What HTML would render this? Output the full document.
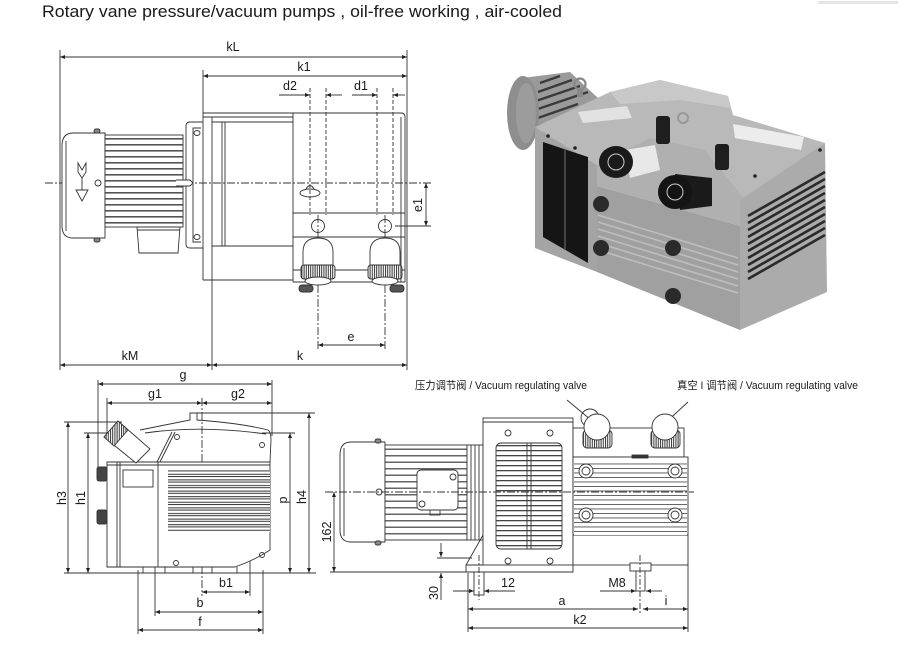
<!DOCTYPE html>
<html><head><meta charset="utf-8"><style>
html,body{margin:0;padding:0;background:#fff;}
svg{display:block;}
text{font-family:"Liberation Sans","Noto Sans CJK SC",sans-serif;fill:#1a1a1a;}
</style></head><body>
<svg width="923" height="647" viewBox="0 0 923 647" xmlns="http://www.w3.org/2000/svg">
<defs>
<marker id="ar" viewBox="0 0 10 10" refX="10" refY="5" markerWidth="7" markerHeight="5" orient="auto-start-reverse" markerUnits="userSpaceOnUse"><path d="M0,1 L10,5 L0,9 z" fill="#222"/></marker>
<pattern id="fin" patternUnits="userSpaceOnUse" width="10" height="6"><rect width="10" height="6" fill="#fff"/><rect y="0" width="10" height="1.6" fill="#555"/></pattern>
<pattern id="fin2" patternUnits="userSpaceOnUse" width="10" height="6.5"><rect width="10" height="6.5" fill="#fff"/><rect y="0" width="10" height="1.5" fill="#666"/></pattern>
<pattern id="louv" patternUnits="userSpaceOnUse" width="10" height="5.6"><rect width="10" height="5.6" fill="#fff"/><rect y="0" width="10" height="1" fill="#333"/><rect y="3.4" width="10" height="1" fill="#333"/></pattern>
<pattern id="gr" patternUnits="userSpaceOnUse" width="10" height="5"><rect width="10" height="5" fill="#fff"/><rect y="0" width="10" height="1.3" fill="#444"/></pattern>
<pattern id="kn" patternUnits="userSpaceOnUse" width="2.2" height="10"><rect width="2.2" height="10" fill="#fff"/><rect width="1" height="10" fill="#333"/></pattern>
<pattern id="rib" patternUnits="userSpaceOnUse" width="10" height="4.5"><rect width="10" height="4.5" fill="#fff"/><rect width="10" height="0.9" fill="#555"/></pattern>
</defs>

<!-- title -->
<text x="42" y="17" font-size="16.5" textLength="520" lengthAdjust="spacingAndGlyphs" fill="#111">Rotary vane pressure/vacuum pumps , oil-free working , air-cooled</text>
<rect x="818" y="1" width="80" height="3" fill="#e6e6e6"/>

<!-- ================= TOP LEFT DRAWING ================= -->
<g stroke="#333" stroke-width="0.9" fill="none">
  <line x1="60" y1="50" x2="60" y2="370"/>
  <line x1="407" y1="50" x2="407" y2="370"/>
  <line x1="203" y1="70" x2="203" y2="113"/>
  <line x1="212" y1="117" x2="212" y2="370"/>
  <line x1="60" y1="57" x2="407" y2="57" marker-start="url(#ar)" marker-end="url(#ar)"/>
  <line x1="203" y1="76" x2="407" y2="76" marker-start="url(#ar)" marker-end="url(#ar)"/>
  <line x1="279" y1="95" x2="310" y2="95" marker-end="url(#ar)"/>
  <line x1="342" y1="95" x2="326" y2="95" marker-end="url(#ar)"/>
  <line x1="352" y1="95" x2="377" y2="95" marker-end="url(#ar)"/>
  <line x1="405" y1="95" x2="393" y2="95" marker-end="url(#ar)"/>
  <line x1="60" y1="365" x2="212" y2="365" marker-start="url(#ar)" marker-end="url(#ar)"/>
  <line x1="212" y1="365" x2="407" y2="365" marker-start="url(#ar)" marker-end="url(#ar)"/>
  <line x1="318" y1="345" x2="385" y2="345" marker-start="url(#ar)" marker-end="url(#ar)"/>
  <line x1="426" y1="183" x2="426" y2="226" marker-start="url(#ar)" marker-end="url(#ar)"/>
  <line x1="395" y1="226" x2="431" y2="226"/>
  <g stroke-dasharray="4,2">
    <line x1="310" y1="88" x2="310" y2="215"/>
    <line x1="326" y1="88" x2="326" y2="215"/>
    <line x1="377" y1="88" x2="377" y2="215"/>
    <line x1="393" y1="88" x2="393" y2="215"/>
  </g>
  <g stroke-dasharray="8,2,2,2">
    <line x1="318" y1="215" x2="318" y2="350"/>
    <line x1="385" y1="215" x2="385" y2="350"/>
    <line x1="45" y1="183" x2="432" y2="183"/>
  </g>
  <path d="M203,113 L401,113 Q405,113 405,117 L405,282"/>
  <line x1="203" y1="117" x2="293" y2="117"/>
  <line x1="203" y1="113" x2="203" y2="280"/>
  <line x1="203" y1="280" x2="293" y2="280"/>
  <line x1="212" y1="122" x2="293" y2="122"/>
  <line x1="212" y1="246" x2="293" y2="246"/>
  <line x1="222" y1="122" x2="222" y2="246"/>
  <line x1="225" y1="122" x2="225" y2="246"/>
  <line x1="293" y1="113" x2="293" y2="282"/>
  <line x1="401" y1="117" x2="401" y2="282"/>
  <line x1="293" y1="213" x2="405" y2="213"/>
  <line x1="293" y1="237" x2="405" y2="237"/>
  <line x1="293" y1="270" x2="405" y2="270"/>
  <line x1="293" y1="282" x2="405" y2="282"/>
  <path d="M203,122 L190,122 Q186,122 186,126 L186,244 Q186,248 190,248 L203,248"/>
  <path d="M201,128 L193,128 L193,242 L201,242"/>
  <ellipse cx="197" cy="133" rx="3" ry="2.5"/>
  <ellipse cx="197" cy="237" rx="3" ry="2.5"/>
  <ellipse cx="310" cy="193" rx="10" ry="4"/>
  <path d="M306,189 Q310,182 314,189"/>
  <circle cx="318" cy="226" r="6.5"/>
  <circle cx="385" cy="226" r="6.5"/>
</g>
<g stroke="#333" stroke-width="0.9">
  <path d="M303,268 L303,252 Q303,238 318,238 Q333,238 333,252 L333,268 Z" fill="#fff"/>
  <rect x="301" y="265" width="34" height="14" rx="3" fill="url(#kn)"/>
  <ellipse cx="318" cy="281" rx="13" ry="4" fill="#fff"/>
  <rect x="299" y="285" width="14" height="7" rx="3" fill="#555"/>
  <path d="M370,268 L370,252 Q370,238 385,238 Q400,238 400,252 L400,268 Z" fill="#fff"/>
  <rect x="368" y="265" width="34" height="14" rx="3" fill="url(#kn)"/>
  <ellipse cx="385" cy="281" rx="13" ry="4" fill="#fff"/>
  <rect x="390" y="285" width="14" height="7" rx="3" fill="#555"/>
</g>
<g stroke="#333" stroke-width="0.9">
  <path d="M105,133 L73,133 Q62,133 62,146 L62,226 Q62,238 73,238 L105,238 Z" fill="#fff"/>
  <line x1="66" y1="141" x2="66" y2="231"/>
  <rect x="105" y="135" width="78" height="92" fill="url(#fin)"/>
  <path d="M137,227 L180,227 L178,253 L139,253 Z" fill="#fff"/>
  <line x1="137" y1="230" x2="180" y2="230"/>
  <rect x="94" y="129" width="6" height="4" rx="2" fill="#888"/>
  <rect x="94" y="238" width="6" height="4" rx="2" fill="#888"/>
  <circle cx="98" cy="183" r="3" fill="#fff"/>
  <path d="M176,180 L190,180 L193,183 L190,186 L176,186" fill="#fff"/>
  <path d="M78,163 L82,170 L86,163 L86,172 L82,178 L78,172 Z" fill="#fff"/>
  <line x1="82" y1="178" x2="82" y2="190"/>
  <path d="M76,190 L88,190 L82,201 Z" fill="#fff"/>
</g>
<g font-size="12.5" text-anchor="middle">
  <text x="233" y="51">kL</text>
  <text x="304" y="71">k1</text>
  <text x="290" y="90">d2</text>
  <text x="361" y="90">d1</text>
  <text x="130" y="360">kM</text>
  <text x="300" y="360">k</text>
  <text x="351" y="341">e</text>
  <text x="0" y="0" transform="translate(422,205) rotate(-90)">e1</text>
</g>

<!-- ================= PHOTO ================= -->
<g>
  <!-- motor -->
  <polygon points="522,78 570,72 598,98 560,118 535,130 522,148" fill="#9a9a9a"/>
  <g stroke="#3a3a3a" stroke-width="2.4">
    <line x1="540" y1="83" x2="560" y2="76"/>
    <line x1="538" y1="92" x2="572" y2="80"/>
    <line x1="536" y1="101" x2="580" y2="86"/>
    <line x1="535" y1="110" x2="588" y2="92"/>
    <line x1="535" y1="119" x2="578" y2="104"/>
    <line x1="535" y1="128" x2="560" y2="118"/>
    <line x1="535" y1="137" x2="545" y2="133"/>
  </g>
  <ellipse cx="523" cy="113" rx="16" ry="37" fill="#8e8e8e"/>
  <ellipse cx="526" cy="113" rx="10" ry="30" fill="#9c9c9c"/>
  <circle cx="580" cy="84" r="5.5" fill="none" stroke="#888" stroke-width="2.2"/>
  <rect x="577" y="89" width="6" height="8" fill="#888"/>
  <!-- housing -->
  <polygon points="535,127 610,92 660,80 728,96 733,115 825,143 790,168 745,200 700,190 597,165" fill="#b9b9b9"/>
  <polygon points="610,92 660,80 728,96 731,108 680,100 620,104" fill="#c8c8c8"/>
  <polygon points="597,165 650,138 705,150 745,200 740,226 597,186" fill="#b0b0b0"/>
  <polygon points="535,127 597,165 597,272 535,248" fill="#a4a4a4"/>
  <polygon points="543,142 588,157 588,263 543,237" fill="#151515"/>
  <line x1="565" y1="150" x2="565" y2="250" stroke="#555" stroke-width="1.5"/>
  <polygon points="597,186 740,226 740,330 597,272" fill="#a0a0a0"/>
  <g stroke="#bfbfbf" stroke-width="1.5">
    <line x1="598" y1="215" x2="738" y2="258"/><line x1="598" y1="222" x2="738" y2="265"/><line x1="598" y1="229" x2="738" y2="272"/><line x1="598" y1="236" x2="738" y2="279"/><line x1="598" y1="243" x2="738" y2="286"/><line x1="598" y1="250" x2="738" y2="293"/>
  </g>
  <polygon points="740,200 825,143 827,292 740,330" fill="#ababab"/>
  <g stroke="#2a2a2a" stroke-width="2.6">
    <line x1="748" y1="216" x2="825" y2="172"/><line x1="748" y1="223" x2="825" y2="179"/><line x1="748" y1="230" x2="825" y2="186"/><line x1="748" y1="237" x2="825" y2="193"/><line x1="748" y1="244" x2="825" y2="200"/><line x1="748" y1="251" x2="825" y2="207"/><line x1="748" y1="258" x2="825" y2="214"/><line x1="748" y1="265" x2="825" y2="221"/><line x1="748" y1="272" x2="825" y2="228"/><line x1="748" y1="279" x2="825" y2="235"/>
  </g>
  <polygon points="578,112 627,106 632,118 583,123" fill="#e2e2e2"/>
  <polygon points="733,124 804,137 801,150 735,138" fill="#ececec"/>
  <circle cx="548" cy="136" r="1.8" fill="#222"/>
  <circle cx="575" cy="148" r="1.8" fill="#222"/>
  <circle cx="820" cy="150" r="1.8" fill="#222"/>
  <circle cx="755" cy="176" r="1.8" fill="#222"/>
  <rect x="656" y="116" width="14" height="28" rx="3" fill="#1e1e1e"/>
  <rect x="715" y="144" width="14" height="26" rx="3" fill="#1e1e1e"/>
  <circle cx="683" cy="118" r="5" fill="none" stroke="#999" stroke-width="2"/>
  <path d="M625,150 L655,145 L660,170 L630,178 Z" fill="#e8e8e8"/>
  <ellipse cx="616" cy="162" rx="17" ry="16" fill="#1a1a1a"/>
  <circle cx="616" cy="162" r="8" fill="none" stroke="#ccc" stroke-width="1"/>
  <path d="M675,174 L712,178 L712,206 L680,210 Z" fill="#1a1a1a"/>
  <ellipse cx="675" cy="192" rx="17" ry="17" fill="#141414"/>
  <circle cx="675" cy="192" r="8" fill="none" stroke="#ccc" stroke-width="1"/>
  <circle cx="601" cy="204" r="8" fill="#2a2a2a"/>
  <circle cx="601" cy="248" r="8" fill="#2a2a2a"/>
  <circle cx="673" cy="248" r="8" fill="#2a2a2a"/>
  <circle cx="673" cy="296" r="8" fill="#2a2a2a"/>
</g>

<!-- ================= BOTTOM LEFT DRAWING ================= -->
<g stroke="#333" stroke-width="0.9" fill="none">
  <line x1="98" y1="380" x2="98" y2="470"/>
  <line x1="272" y1="380" x2="272" y2="436"/>
  <line x1="107" y1="398" x2="107" y2="437"/>
  <line x1="98" y1="384" x2="272" y2="384" marker-start="url(#ar)" marker-end="url(#ar)"/>
  <line x1="107" y1="403" x2="202" y2="403" marker-start="url(#ar)" marker-end="url(#ar)"/>
  <line x1="202" y1="403" x2="272" y2="403" marker-start="url(#ar)" marker-end="url(#ar)"/>
  <line x1="202" y1="398" x2="202" y2="596" stroke-dasharray="8,2,2,2"/>
  <line x1="64" y1="422" x2="122" y2="422"/>
  <line x1="84" y1="433" x2="110" y2="433"/>
  <line x1="64" y1="573" x2="316" y2="573"/>
  <line x1="68" y1="422" x2="68" y2="573" marker-start="url(#ar)" marker-end="url(#ar)"/>
  <line x1="88" y1="433" x2="88" y2="573" marker-start="url(#ar)" marker-end="url(#ar)"/>
  <line x1="262" y1="433" x2="295" y2="433"/>
  <line x1="195" y1="413" x2="315" y2="413"/>
  <line x1="290" y1="433" x2="290" y2="573" marker-start="url(#ar)" marker-end="url(#ar)"/>
  <line x1="309" y1="413" x2="309" y2="573" marker-start="url(#ar)" marker-end="url(#ar)"/>
  <line x1="250" y1="560" x2="250" y2="596"/>
  <line x1="155" y1="558" x2="155" y2="616"/>
  <line x1="138" y1="570" x2="138" y2="634"/>
  <line x1="263" y1="570" x2="263" y2="634"/>
  <line x1="202" y1="592" x2="250" y2="592" marker-start="url(#ar)" marker-end="url(#ar)"/>
  <line x1="155" y1="612" x2="263" y2="612" marker-start="url(#ar)" marker-end="url(#ar)"/>
  <line x1="138" y1="630" x2="263" y2="630" marker-start="url(#ar)" marker-end="url(#ar)"/>
  <path d="M107,462 L107,567 L235,567 Q255,560 270,550 L270,462 Z" fill="#fff"/>
  <line x1="107" y1="462" x2="270" y2="462"/>
  <line x1="107" y1="465" x2="270" y2="465"/>
  <path d="M140,430 Q190,420 190,420 L190,413 L197,413 L197,420 Q240,423 268,430 Q271,432 271,440 L270,462"/>
  <path d="M145,433 Q200,425 266,434"/>
  <line x1="157" y1="462" x2="172" y2="432"/>
  <line x1="160" y1="462" x2="175" y2="432"/>
  <line x1="117" y1="462" x2="117" y2="567"/>
  <line x1="120" y1="462" x2="120" y2="567"/>
  <line x1="158" y1="462" x2="158" y2="567"/>
  <rect x="123" y="470" width="30" height="17"/>
  <circle cx="177" cy="437" r="2.5"/>
  <circle cx="262" cy="445" r="2.5"/>
  <circle cx="262" cy="555" r="2.5"/>
  <circle cx="176" cy="563" r="2.5"/>
  <path d="M143,567 L143,573 M165,567 L165,573 M193,567 L193,573 M212,567 L212,573 M237,567 L237,573"/>
</g>
<rect x="168" y="470" width="102" height="62" fill="url(#louv)"/>
<g stroke="#333" stroke-width="0.9">
  <polygon points="104,437 118,421 150,449 136,463" fill="#fff"/>
  <polygon points="104,437 118,421 128,430 114,446" fill="url(#kn)"/>
  <rect x="97" y="467" width="10" height="14" rx="2" fill="#444"/>
  <rect x="97" y="510" width="10" height="14" rx="2" fill="#444"/>
</g>
<g font-size="12.5" text-anchor="middle">
  <text x="183" y="379">g</text>
  <text x="155" y="398">g1</text>
  <text x="238" y="398">g2</text>
  <text x="226" y="587">b1</text>
  <text x="200" y="607">b</text>
  <text x="200" y="626">f</text>
  <text transform="translate(66,498) rotate(-90)">h3</text>
  <text transform="translate(85,498) rotate(-90)">h1</text>
  <text transform="translate(287,500) rotate(-90)">p</text>
  <text transform="translate(306,497) rotate(-90)">h4</text>
</g>

<!-- ================= BOTTOM RIGHT DRAWING ================= -->
<g font-size="11">
  <text x="415" y="389" textLength="172" lengthAdjust="spacingAndGlyphs">压力调节阀 / Vacuum regulating valve</text>
  <text x="677" y="389" textLength="181" lengthAdjust="spacingAndGlyphs">真空 I 调节阀 / Vacuum regulating valve</text>
</g>
<g stroke="#333" stroke-width="0.9" fill="none">
  <line x1="567" y1="400" x2="597" y2="425"/>
  <line x1="688" y1="402" x2="663" y2="425"/>
  <path d="M385,442 L351,442 Q340,442 340,455 L340,530 Q340,542 351,542 L385,542 Z" fill="#fff"/>
  <line x1="344" y1="448" x2="344" y2="536"/>
</g>
<rect x="385" y="445" width="82" height="95" fill="url(#fin2)" stroke="#333" stroke-width="0.9"/>
<g stroke="#333" stroke-width="0.9" fill="none">
  <rect x="417" y="470" width="41" height="40" rx="4" fill="#fff"/>
  <circle cx="453" cy="477" r="3"/>
  <circle cx="422" cy="504" r="3"/>
  <rect x="430" y="510" width="10" height="5"/>
  <circle cx="379" cy="492" r="3" fill="#fff"/>
  <rect x="375" y="439" width="6" height="4" rx="2" fill="#888"/>
  <rect x="375" y="541" width="6" height="4" rx="2" fill="#888"/>
  <rect x="467" y="445" width="16" height="95" fill="#fff"/>
  <line x1="471" y1="445" x2="471" y2="540"/><line x1="475" y1="445" x2="475" y2="540"/><line x1="479" y1="445" x2="479" y2="540"/>
  <rect x="483" y="418" width="90" height="147" fill="#fff"/>
  <line x1="483" y1="422" x2="573" y2="422"/>
  <circle cx="508" cy="433" r="3"/><circle cx="550" cy="433" r="3"/>
  <circle cx="508" cy="561" r="3"/><circle cx="550" cy="561" r="3"/>
  <path d="M483,535 L466,565 L466,572 L573,572 L573,565"/>
  <line x1="466" y1="565" x2="483" y2="565"/>
  <rect x="573" y="428" width="111" height="29" fill="#fff"/>
  <rect x="573" y="457" width="115" height="108" fill="#fff"/>
  <line x1="573" y1="535" x2="688" y2="535"/>
</g>
<rect x="496" y="443" width="66" height="106" rx="5" fill="url(#gr)" stroke="#333" stroke-width="0.9"/>
<g stroke="#333" stroke-width="0.9" fill="none">
  <line x1="527" y1="443" x2="527" y2="549"/><line x1="531" y1="443" x2="531" y2="549"/>
</g>
<rect x="574" y="462" width="113" height="73" fill="url(#rib)"/>
<g stroke="#333" stroke-width="0.9">
  <circle cx="586" cy="471" r="7" fill="#fff"/><circle cx="586" cy="471" r="4" fill="#fff"/>
  <circle cx="675" cy="471" r="7" fill="#fff"/><circle cx="675" cy="471" r="4" fill="#fff"/>
  <circle cx="586" cy="515" r="7" fill="#fff"/><circle cx="586" cy="515" r="4" fill="#fff"/>
  <circle cx="675" cy="515" r="7" fill="#fff"/><circle cx="675" cy="515" r="4" fill="#fff"/>
  <rect x="632" y="455" width="16" height="3" fill="#333"/>
  <circle cx="590" cy="418" r="9" fill="none"/>
  <rect x="583" y="430" width="29" height="18" rx="4" fill="url(#kn)"/>
  <circle cx="597" cy="427" r="13" fill="#fff"/>
  <rect x="651" y="430" width="29" height="18" rx="4" fill="url(#kn)"/>
  <circle cx="665" cy="427" r="13" fill="#fff"/>
  <rect x="630" y="563" width="21" height="8" fill="#fff"/>
  <rect x="636" y="571" width="9" height="20" fill="#fff"/>
  <rect x="474" y="572" width="10" height="23" fill="#fff"/>
</g>
<g stroke="#333" stroke-width="0.9" fill="none">
  <line x1="325" y1="492" x2="694" y2="492" stroke-dasharray="8,2,2,2"/>
  <line x1="640" y1="555" x2="640" y2="614" stroke-dasharray="6,2,2,2"/>
  <line x1="479" y1="555" x2="479" y2="600" stroke-dasharray="6,2,2,2"/>
  <line x1="330" y1="572" x2="467" y2="572"/>
  <line x1="334" y1="492" x2="334" y2="572" marker-start="url(#ar)" marker-end="url(#ar)"/>
  <line x1="437" y1="558" x2="472" y2="558"/>
  <line x1="441" y1="543" x2="441" y2="557" marker-end="url(#ar)"/>
  <line x1="441" y1="600" x2="441" y2="573" marker-end="url(#ar)"/>
  <line x1="453" y1="591" x2="474" y2="591" marker-end="url(#ar)"/>
  <line x1="515" y1="591" x2="484" y2="591" marker-end="url(#ar)"/>
  <line x1="600" y1="591" x2="636" y2="591" marker-end="url(#ar)"/>
  <line x1="662" y1="591" x2="646" y2="591" marker-end="url(#ar)"/>
  <line x1="468" y1="573" x2="468" y2="632"/>
  <line x1="688" y1="563" x2="688" y2="632"/>
  <line x1="468" y1="609" x2="638" y2="609" marker-start="url(#ar)" marker-end="url(#ar)"/>
  <line x1="643" y1="609" x2="688" y2="609" marker-start="url(#ar)" marker-end="url(#ar)"/>
  <line x1="468" y1="628" x2="688" y2="628" marker-start="url(#ar)" marker-end="url(#ar)"/>
</g>
<g font-size="12.5" text-anchor="middle">
  <text x="508" y="587">12</text>
  <text x="617" y="587">M8</text>
  <text x="562" y="605">a</text>
  <text x="666" y="605">i</text>
  <text x="580" y="624">k2</text>
  <text transform="translate(331,532) rotate(-90)">162</text>
  <text transform="translate(438,593) rotate(-90)">30</text>
</g>
</svg>
</body></html>
